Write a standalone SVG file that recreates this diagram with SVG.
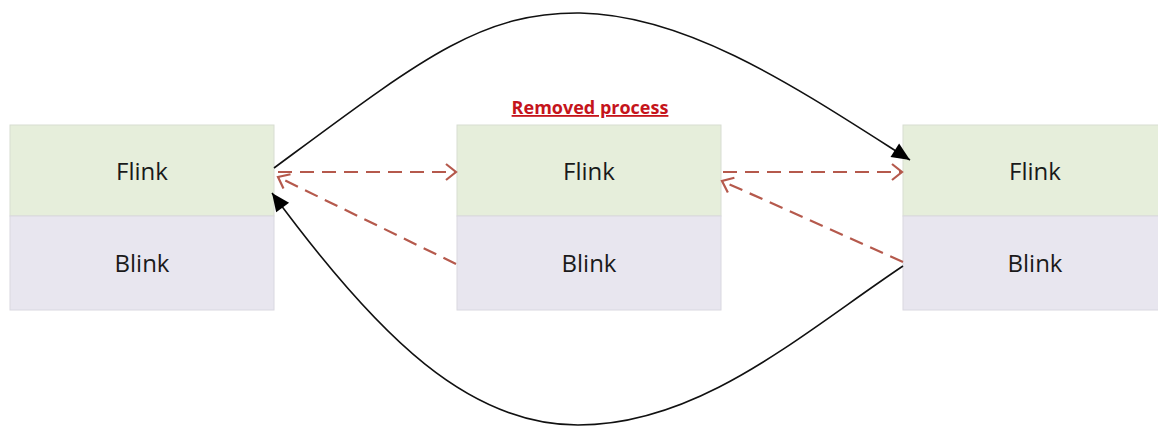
<svg xmlns="http://www.w3.org/2000/svg" width="1158" height="428" viewBox="0 0 1158 428">
<style>
.top{fill:#e6eedb;stroke:#d8ddd2;stroke-width:1}
.bot{fill:#e8e6ef;stroke:#d9d8e0;stroke-width:1}
.lbl{font-family:"Open Sans","Liberation Sans",sans-serif;font-size:24px;fill:#1a1a1a;text-anchor:middle}
.blk{fill:none;stroke:#111;stroke-width:1.6}
.red{fill:none;stroke:#b5594c;stroke-width:2.2;stroke-dasharray:14 8}
</style>
<defs>
<marker id="tri" viewBox="0 0 10 10" refX="10" refY="5" markerWidth="10" markerHeight="10" markerUnits="userSpaceOnUse" orient="auto" overflow="visible">
<path d="M-8,-3 L10,5 L-8,13 Z" fill="#000"/>
</marker>
<marker id="chev" viewBox="0 0 10 10" refX="10" refY="5" markerWidth="10" markerHeight="10" markerUnits="userSpaceOnUse" orient="auto" overflow="visible">
<path d="M0,-3 L10,5 L0,13" fill="none" stroke="#b5594c" stroke-width="2.2"/>
</marker>
</defs>
<g id="node-left">
<rect class="top" x="10" y="125" width="264" height="91"/>
<rect class="bot" x="10" y="216" width="264" height="94"/>
<text class="lbl" x="142" y="180">Flink</text>
<text class="lbl" x="142" y="272">Blink</text>
</g>
<g id="node-middle">
<rect class="top" x="457" y="125" width="264" height="91"/>
<rect class="bot" x="457" y="216" width="264" height="94"/>
<text class="lbl" x="589" y="180">Flink</text>
<text class="lbl" x="589" y="272">Blink</text>
<text x="590" y="114" font-family="'Open Sans','Liberation Sans',sans-serif" font-size="18" font-weight="bold" fill="#c5141b" text-anchor="middle" text-decoration="underline">Removed process</text>
</g>
<g id="node-right">
<rect class="top" x="903" y="125" width="264" height="91"/>
<rect class="bot" x="903" y="216" width="264" height="94"/>
<text class="lbl" x="1035" y="180">Flink</text>
<text class="lbl" x="1035" y="272">Blink</text>
</g>
<g id="connectors">
<path class="blk" d="M274,168 C420,60 480,12 580,13 C690,15 800,90 910,160" marker-end="url(#tri)"/>
<path class="blk" d="M903,266 C800,335 700,425 578,425 C470,425 380,340 272,193" marker-end="url(#tri)"/>
<path class="red" d="M278,172 L456,172" marker-end="url(#chev)"/>
<path class="red" d="M723,172 L902,172" marker-end="url(#chev)"/>
<path class="red" d="M456,264 L278,177" marker-end="url(#chev)"/>
<path class="red" d="M903,262 L722,181" marker-end="url(#chev)"/>
</g>
</svg>
